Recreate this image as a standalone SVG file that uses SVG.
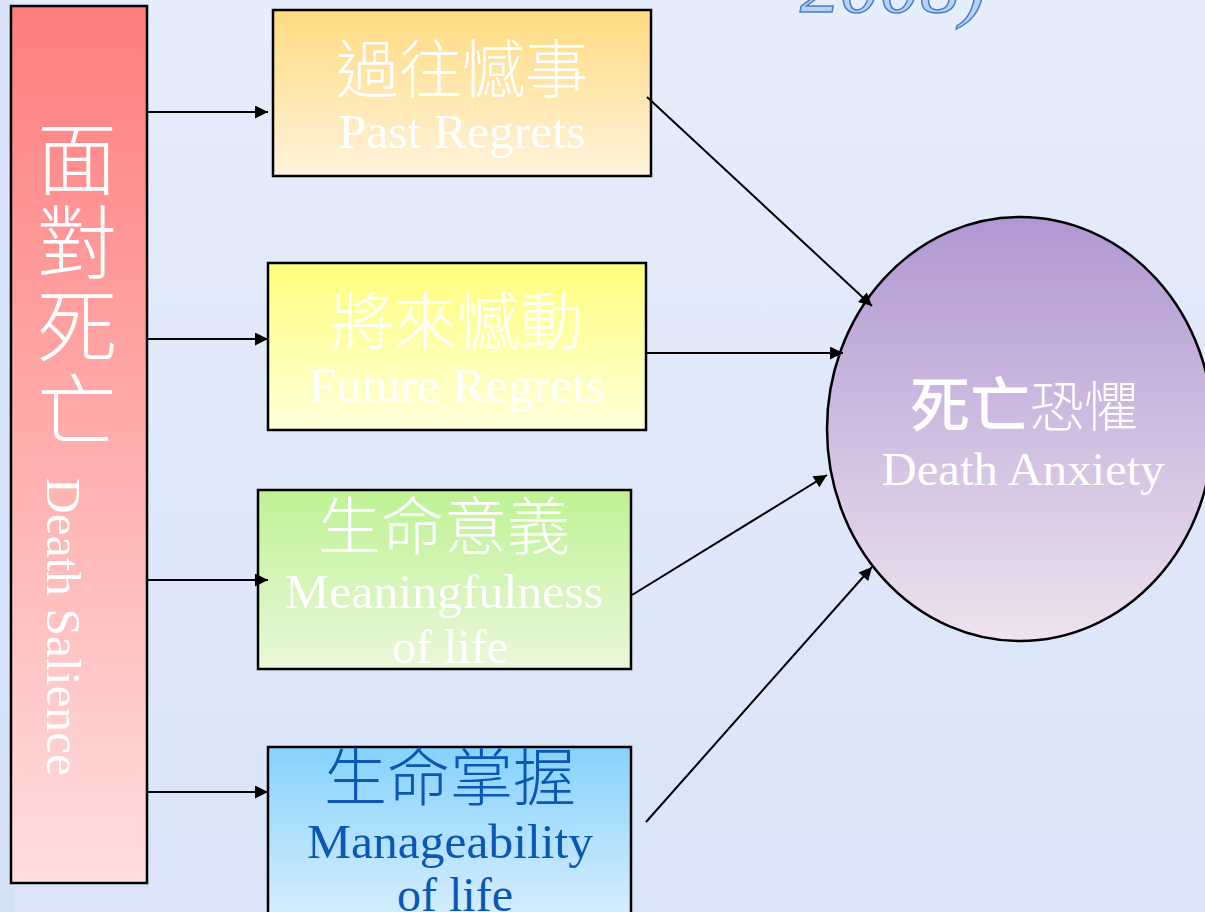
<svg xmlns="http://www.w3.org/2000/svg" width="1205" height="912" viewBox="0 0 1205 912">
<style>
.box{stroke:#000;stroke-width:2.5}
.conn{stroke:#000;stroke-width:2;fill:none;marker-end:url(#ah)}
.zh{font-family:"Noto Sans CJK TC","Noto Sans CJK SC",sans-serif;font-weight:300;text-anchor:middle}
.en{font-family:"Liberation Serif",serif;text-anchor:middle}
.w{fill:#ffffff}
.b{fill:#0b57b4}
</style>
<defs>
<linearGradient id="bg" x1="0" y1="0" x2="0" y2="1"><stop offset="0" stop-color="#e6edfb"/><stop offset="1" stop-color="#d9e4f8"/></linearGradient>
<linearGradient id="gRed" x1="0" y1="0" x2="0" y2="1"><stop offset="0" stop-color="#ff7d7d"/><stop offset="1" stop-color="#ffdede"/></linearGradient>
<linearGradient id="gGold" x1="0" y1="0" x2="0" y2="1"><stop offset="0" stop-color="#ffdb80"/><stop offset="1" stop-color="#fff3dd"/></linearGradient>
<linearGradient id="gYel" x1="0" y1="0" x2="0" y2="1"><stop offset="0" stop-color="#ffff7d"/><stop offset="1" stop-color="#ffffdb"/></linearGradient>
<linearGradient id="gGrn" x1="0" y1="0" x2="0" y2="1"><stop offset="0" stop-color="#bff294"/><stop offset="1" stop-color="#e9f8db"/></linearGradient>
<linearGradient id="gBlu" x1="0" y1="0" x2="0" y2="1"><stop offset="0" stop-color="#86d2fd"/><stop offset="1" stop-color="#dbeffe"/></linearGradient>
<linearGradient id="gPur" x1="0" y1="0" x2="0" y2="1"><stop offset="0" stop-color="#b197d3"/><stop offset="1" stop-color="#eee3ee"/></linearGradient>
<marker id="ah" viewBox="0 0 10 10" refX="10" refY="5" markerUnits="userSpaceOnUse" markerWidth="16" markerHeight="13" orient="auto"><path d="M0,0 L10,5 L0,10 z" fill="#000"/></marker>
</defs>
<rect x="0" y="0" width="1205" height="912" fill="url(#bg)"/>
<rect x="0" y="0" width="14" height="912" fill="#d3e0f6" opacity="0.7"/>
<text x="800" y="12" font-family="Liberation Serif, serif" font-style="italic" font-size="80" fill="#b5d2f4" stroke="#4d7fc2" stroke-width="1.5">2008)</text>

<g id="death-salience">
<rect class="box" x="11" y="6" width="136" height="877" fill="url(#gRed)"/>
<text class="zh w" x="77" y="286" font-size="80" writing-mode="vertical-rl" letter-spacing="4">面對死亡</text>
<text class="en w" transform="translate(47,627) rotate(90)" font-size="48" textLength="298" lengthAdjust="spacingAndGlyphs">Death Salience</text>
</g>

<g id="past-regrets">
<rect class="box" x="273" y="10" width="378" height="166" fill="url(#gGold)"/>
<text class="zh w" x="462" y="92" font-size="63">過往憾事</text>
<text class="en w" x="462" y="148" font-size="48" textLength="247" lengthAdjust="spacingAndGlyphs">Past Regrets</text>
</g>

<g id="future-regrets">
<rect class="box" x="268" y="263" width="378" height="167" fill="url(#gYel)"/>
<text class="zh w" x="457" y="344" font-size="63">將來憾動</text>
<text class="en w" x="457" y="402" font-size="48" textLength="297" lengthAdjust="spacingAndGlyphs">Future Regrets</text>
</g>

<g id="meaningfulness">
<rect class="box" x="258" y="490" width="373" height="179" fill="url(#gGrn)"/>
<text class="zh w" x="444" y="549" font-size="63">生命意義</text>
<text class="en w" x="444" y="608" font-size="48" textLength="318" lengthAdjust="spacingAndGlyphs">Meaningfulness</text>
<text class="en w" x="450" y="663" font-size="48">of life</text>
</g>

<g id="manageability">
<rect class="box" x="268" y="747" width="363" height="180" fill="url(#gBlu)"/>
<text class="zh b" x="450" y="800" font-size="63">生命掌握</text>
<text class="en b" x="450" y="858" font-size="48" textLength="286" lengthAdjust="spacingAndGlyphs">Manageability</text>
<text class="en b" x="455" y="911" font-size="48">of life</text>
</g>

<g id="death-anxiety">
<ellipse cx="1020" cy="429" rx="193" ry="212" fill="url(#gPur)" stroke="#000" stroke-width="2.5"/>
<text x="1024" y="427" font-family="Noto Sans CJK TC, Noto Sans CJK SC, sans-serif" text-anchor="middle" fill="#fff"><tspan font-size="60" font-weight="500">死亡</tspan><tspan font-size="54" font-weight="300">恐懼</tspan></text>
<text class="en w" x="1023" y="485" font-size="46" textLength="283" lengthAdjust="spacingAndGlyphs">Death Anxiety</text>
</g>

<g id="connectors">
<line class="conn" x1="148" y1="112" x2="268" y2="112"/>
<line class="conn" x1="148" y1="339" x2="268" y2="339"/>
<line class="conn" x1="148" y1="580" x2="268" y2="580"/>
<line class="conn" x1="148" y1="792" x2="268" y2="792"/>
<line class="conn" x1="647" y1="97" x2="872" y2="306"/>
<line class="conn" x1="646" y1="353" x2="843" y2="353"/>
<line class="conn" x1="632" y1="595" x2="827" y2="475"/>
<line class="conn" x1="646" y1="822" x2="872" y2="567"/>
</g>
</svg>
